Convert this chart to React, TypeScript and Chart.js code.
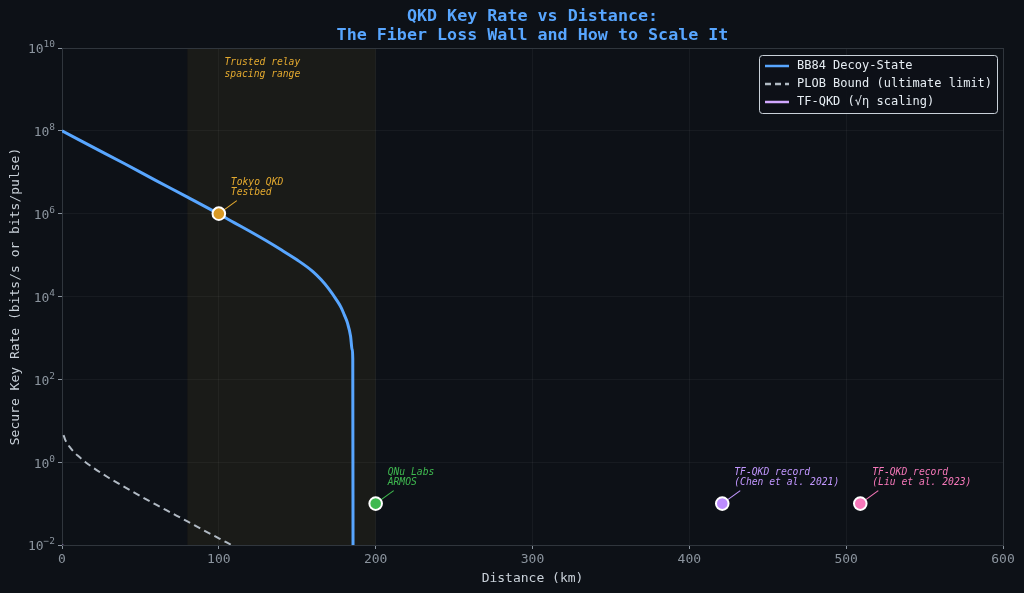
import { useEffect, useRef } from "react";
import { Chart, registerables } from "chart.js";

Chart.register(...registerables);

const MONO = '"DejaVu Sans Mono", monospace';
const BG = "#0d1117";

// BB84 decoy-state curve (km, bits/s)
const bb84Km = [0, 20, 40, 60, 80, 100, 110, 120, 130, 140, 150, 160, 165, 170, 175, 178, 180, 182, 184, 185, 185.4, 185.6];
const bb84Rate = [1e8, 4.0e7, 1.6e7, 6.3e6, 2.5e6, 9.8e5, 6.0e5, 3.7e5, 2.24e5, 1.32e5, 7.6e4, 4.0e4, 2.6e4, 1.55e4, 8.3e3, 5.4e3, 3.6e3, 2.3e3, 1.1e3, 525, 316, 1e-3];

// PLOB bound (bits/pulse)
const plobKm = [1, 2, 3, 5, 7, 10, 15, 20, 30, 40, 50, 60, 70, 80, 90, 100, 110, 120];
const plobRate = [4.5, 3.5, 2.95, 2.3, 1.86, 1.44, 1.0, 0.73, 0.415, 0.25, 0.152, 0.094, 0.059, 0.037, 0.023, 0.0145, 0.0092, 0.0058];

// TF-QKD curve (only its start touches the visible range)
const tfKm = [0, 20, 600];
const tfRate = [0.01, 0.001, 1e-9];

// experiment markers
const markerKm = [100, 200, 421, 509];
const markerRate = [1e6, 0.1, 0.1, 0.1];
const markerColors = ["#d99a26", "#3fb950", "#bc8cff", "#f778ba"];
const markerText = [
  ["Tokyo QKD", "Testbed"],
  ["QNu Labs", "ARMOS"],
  ["TF-QKD record", "(Chen et al. 2021)"],
  ["TF-QKD record", "(Liu et al. 2023)"],
];
const markerTextColors = ["#e3a92f", "#3fb950", "#c297ff", "#f778ba"];

const relayBand = [80, 200];
const relayText = ["Trusted relay", "spacing range"];

const yTickPowers = [-2, 0, 2, 4, 6, 8, 10];
const xTicks = [0, 100, 200, 300, 400, 500, 600];

const legendItems = [
  { label: "BB84 Decoy-State", color: "#58a6ff", dash: [] as number[] },
  { label: "PLOB Bound (ultimate limit)", color: "#b1bac4", dash: [6, 4] },
  { label: "TF-QKD (\u221A\u03B7 scaling)", color: "#d2a8ff", dash: [] as number[] },
];

const toXY = (xs: number[], ys: number[]) => xs.map((x, i) => ({ x, y: ys[i] }));

const decorPlugin = {
  id: "decor",
  beforeDraw(chart: any) {
    const { ctx, chartArea, scales } = chart;
    ctx.save();
    ctx.fillStyle = BG;
    ctx.fillRect(0, 0, chart.width, chart.height);
    const x0 = scales.x.getPixelForValue(relayBand[0]);
    const x1 = scales.x.getPixelForValue(relayBand[1]);
    ctx.fillStyle = "#1a1b18";
    ctx.fillRect(x0, chartArea.top, x1 - x0, chartArea.bottom - chartArea.top);
    ctx.restore();
  },
  beforeDatasetsDraw(chart: any) {
    const { ctx, chartArea, scales } = chart;
    ctx.save();
    ctx.strokeStyle = "#30363d";
    ctx.lineWidth = 1;
    ctx.strokeRect(chartArea.left + 0.5, chartArea.top + 0.5, chartArea.right - chartArea.left, chartArea.bottom - chartArea.top);
    // connector lines
    markerKm.forEach((km, i) => {
      const px = scales.x.getPixelForValue(km);
      const py = scales.y.getPixelForValue(markerRate[i]);
      ctx.strokeStyle = markerTextColors[i];
      ctx.lineWidth = 1.1;
      ctx.beginPath();
      ctx.moveTo(px, py);
      ctx.lineTo(px + 18, py - 13);
      ctx.stroke();
    });
    ctx.restore();
  },
  afterDraw(chart: any) {
    const { ctx, chartArea, scales } = chart;
    ctx.save();
    // title
    ctx.fillStyle = "#58a6ff";
    ctx.font = `bold 16.7px ${MONO}`;
    ctx.textAlign = "center";
    ctx.textBaseline = "middle";
    const cx = (chartArea.left + chartArea.right) / 2;
    ctx.fillText("QKD Key Rate vs Distance:", cx, 17);
    ctx.fillText("The Fiber Loss Wall and How to Scale It", cx, 36);

    // y tick labels as 10 with raised exponent
    ctx.fillStyle = "#8b949e";
    yTickPowers.forEach((p) => {
      const py = scales.y.getPixelForValue(Math.pow(10, p));
      const right = chartArea.left - 7;
      ctx.font = `9.5px ${MONO}`;
      const exp = String(p).replace("-", "\u2212");
      const ew = ctx.measureText(exp).width;
      ctx.textAlign = "left";
      ctx.fillText(exp, right - ew, py - 3);
      ctx.font = `13px ${MONO}`;
      ctx.textAlign = "right";
      ctx.fillText("10", right - ew, py + 2);
    });

    // relay band label
    ctx.font = `italic 9.7px ${MONO}`;
    ctx.textAlign = "left";
    ctx.fillStyle = "#e3a92f";
    const bx = scales.x.getPixelForValue(relayBand[0]) + 37;
    relayText.forEach((t, j) => ctx.fillText(t, bx, chartArea.top + 14 + j * 12));

    // marker labels
    markerKm.forEach((km, i) => {
      const px = scales.x.getPixelForValue(km);
      const py = scales.y.getPixelForValue(markerRate[i]);
      ctx.fillStyle = markerTextColors[i];
      markerText[i].forEach((t, j) => ctx.fillText(t, px + 12, py - 31 + j * 10));
    });

    // legend
    const lx = chartArea.right - 244;
    const ly = chartArea.top + 7;
    const w = 238;
    const h = 58;
    ctx.fillStyle = "rgba(13,17,23,0.9)";
    ctx.strokeStyle = "#c9d1d9";
    ctx.lineWidth = 1;
    ctx.beginPath();
    ctx.roundRect(lx + 0.5, ly + 0.5, w, h, 3);
    ctx.fill();
    ctx.stroke();
    ctx.font = `12px ${MONO}`;
    legendItems.forEach((item, j) => {
      const yy = ly + 11 + j * 18;
      ctx.strokeStyle = item.color;
      ctx.lineWidth = 2.5;
      ctx.setLineDash(item.dash);
      ctx.beginPath();
      ctx.moveTo(lx + 6, yy);
      ctx.lineTo(lx + 30, yy);
      ctx.stroke();
      ctx.setLineDash([]);
      ctx.fillStyle = "#e6edf3";
      ctx.textAlign = "left";
      ctx.fillText(item.label, lx + 38, yy);
    });
    ctx.restore();
  },
};

export default function App() {
  const canvasRef = useRef<HTMLCanvasElement>(null);
  const chartRef = useRef<Chart | null>(null);

  useEffect(() => {
    if (!canvasRef.current) return;
    if (chartRef.current) chartRef.current.destroy();

    const markerSets = markerKm.map((km, i) => ({
      label: markerText[i].join(" "),
      data: [{ x: km, y: markerRate[i] }],
      showLine: false,
      pointRadius: 6.3,
      pointHoverRadius: 6.3,
      pointBackgroundColor: markerColors[i],
      pointBorderColor: "#ffffff",
      pointBorderWidth: 2,
    }));

    chartRef.current = new Chart(canvasRef.current, {
      type: "line",
      data: {
        datasets: [
          ...markerSets,
          {
            label: "BB84 Decoy-State",
            data: toXY(bb84Km, bb84Rate),
            borderColor: "#58a6ff",
            borderWidth: 3,
            pointRadius: 0,
            cubicInterpolationMode: "monotone",
          },
          {
            label: "PLOB Bound (ultimate limit)",
            data: toXY(plobKm, plobRate),
            borderColor: "#b1bac4",
            borderWidth: 2,
            borderDash: [7, 4.5],
            pointRadius: 0,
            cubicInterpolationMode: "monotone",
          },
          {
            label: "TF-QKD (\u221A\u03B7 scaling)",
            data: toXY(tfKm, tfRate),
            borderColor: "#d2a8ff",
            borderWidth: 2.5,
            pointRadius: 0,
          },
        ] as any,
      },
      options: {
        responsive: false,
        animation: false,
        devicePixelRatio: 1,
        layout: { padding: { top: 48, right: 21, left: 0, bottom: 0 } },
        plugins: {
          legend: { display: false },
          title: { display: false },
          tooltip: { enabled: false },
        },
        scales: {
          x: {
            type: "linear",
            min: 0,
            max: 600,
            afterFit: (s: any) => {
              s.height = 48;
            },
            afterBuildTicks: (s: any) => {
              s.ticks = xTicks.map((v) => ({ value: v }));
            },
            ticks: { color: "#8b949e", font: { family: MONO, size: 13 }, padding: 3 },
            grid: { color: "rgba(255,255,255,0.045)", tickColor: "#8b949e", tickLength: 4 },
            border: { color: "#444c56" },
            title: {
              display: true,
              text: "Distance (km)",
              color: "#c9d1d9",
              font: { family: MONO, size: 13 },
              padding: { top: 0, bottom: 7 },
            },
          },
          y: {
            type: "logarithmic",
            min: 1e-2,
            max: 1e10,
            afterFit: (s: any) => {
              s.width = 62;
            },
            afterBuildTicks: (s: any) => {
              s.ticks = yTickPowers.map((p) => ({ value: Math.pow(10, p) }));
            },
            ticks: {
              color: "#8b949e",
              font: { family: MONO, size: 13 },
              padding: 3,
              callback: () => "",
            },
            grid: { color: "rgba(255,255,255,0.045)", tickColor: "#8b949e", tickLength: 4 },
            border: { color: "#444c56" },
            title: {
              display: true,
              text: "Secure Key Rate (bits/s or bits/pulse)",
              color: "#c9d1d9",
              font: { family: MONO, size: 13 },
              padding: { top: 8, bottom: 0 },
            },
          },
        },
      },
      plugins: [decorPlugin],
    });

    return () => {
      if (chartRef.current) {
        chartRef.current.destroy();
        chartRef.current = null;
      }
    };
  }, []);

  return (
    <div style={{ position: "fixed", left: 0, top: 0, width: 1024, height: 593, background: BG }}>
      <canvas ref={canvasRef} width={1024} height={593} />
    </div>
  );
}
